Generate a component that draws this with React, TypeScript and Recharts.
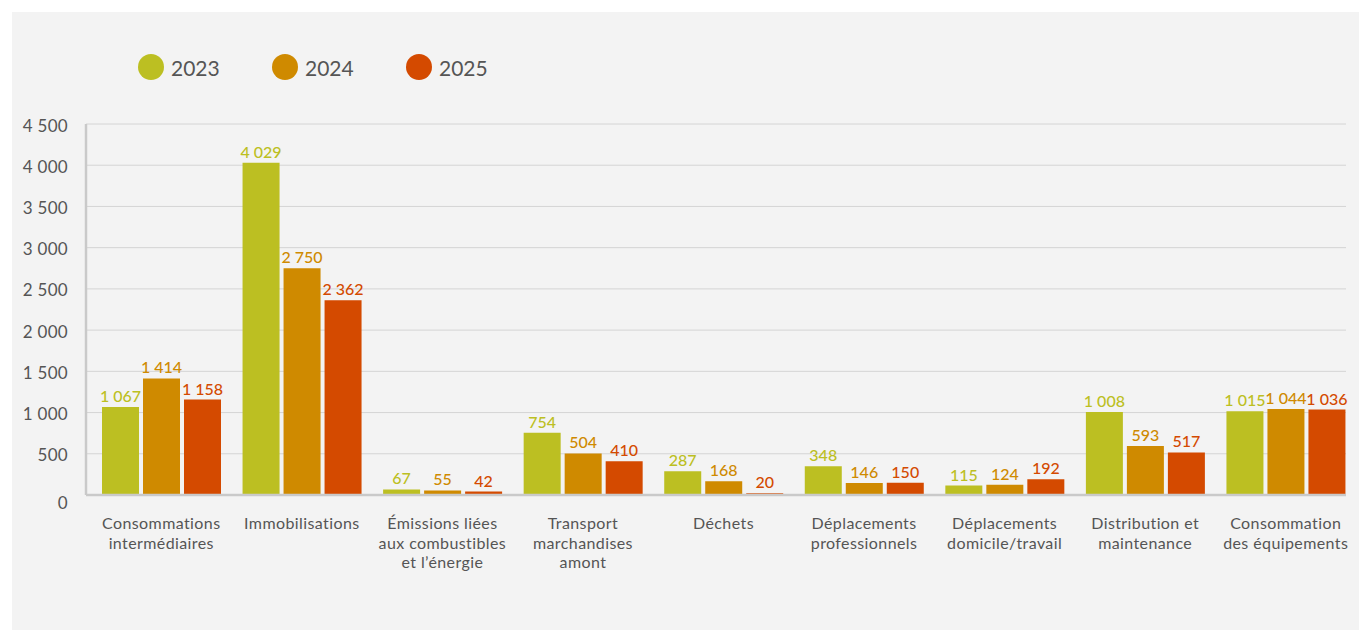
import { BarChart, Bar, XAxis, YAxis, CartesianGrid, LabelList } from 'recharts';

const categories = [
  'Consommations\nintermédiaires',
  'Immobilisations',
  'Émissions liées\naux combustibles\net l’énergie',
  'Transport\nmarchandises\namont',
  'Déchets',
  'Déplacements\nprofessionnels',
  'Déplacements\ndomicile/travail',
  'Distribution et\nmaintenance',
  'Consommation\ndes équipements',
];

const values2023 = [1067, 4029, 67, 754, 287, 348, 115, 1008, 1015];
const values2024 = [1414, 2750, 55, 504, 168, 146, 124, 593, 1044];
const values2025 = [1158, 2362, 42, 410, 20, 150, 192, 517, 1036];

const yTicks = [0, 500, 1000, 1500, 2000, 2500, 3000, 3500, 4000, 4500];

const SERIES = [
  { key: 'y2023', name: '2023', colour: '#bcbf22' },
  { key: 'y2024', name: '2024', colour: '#cf8a00' },
  { key: 'y2025', name: '2025', colour: '#d44a00' },
];

const FONT = 'Lato, "Open Sans", sans-serif';
const TEXT = '#555555';

// 4500 -> "4 500"
function formatNumber(v: number) {
  return String(Math.round(v)).replace(/\B(?=(\d{3})+(?!\d))/g, ' ');
}

function YTick(props: any) {
  const { x, y, payload } = props;
  const shift = payload.value === 0 ? 8 : 2;
  return (
    <text x={x} y={y + shift} dy={5.5} textAnchor='end' fill={TEXT} fontSize={17} fontFamily={FONT} letterSpacing={0.3}>
      {formatNumber(payload.value)}
    </text>
  );
}

function XTick(props: any) {
  const { x, y, payload } = props;
  const lines = String(payload.value).split('\n');
  return (
    <text x={x} y={y + 32} textAnchor='middle' fill={TEXT} fontSize={16} fontFamily={FONT} letterSpacing={0.4}>
      {lines.map((line, i) => (
        <tspan key={i} x={x} dy={i === 0 ? 0 : 19.5}>
          {line}
        </tspan>
      ))}
    </text>
  );
}

export default function App() {
  const data = categories.map((name, i) => ({
    name,
    y2023: values2023[i],
    y2024: values2024[i],
    y2025: values2025[i],
  }));

  return (
    <div style={{ position: 'absolute', left: 0, top: 0, width: 1359, height: 630, background: '#fff' }}>
      <div
        style={{
          position: 'absolute',
          left: 12,
          top: 12,
          width: 1347,
          height: 618,
          background: '#f3f3f3',
          fontFamily: FONT,
        }}
      >
        {/* legend */}
        <div style={{ position: 'absolute', left: 126, top: 42, display: 'flex', alignItems: 'center' }}>
          {SERIES.map((s) => (
            <div key={s.key} style={{ display: 'flex', alignItems: 'center', width: 134 }}>
              <span
                style={{ width: 26, height: 26, borderRadius: 13, background: s.colour, display: 'inline-block' }}
              />
              <span style={{ marginLeft: 7, fontSize: 21, color: TEXT }}>{s.name}</span>
            </div>
          ))}
        </div>

        <BarChart
          width={1347}
          height={618}
          data={data}
          margin={{ top: 112, right: 13, left: 14, bottom: 55 }}
          barSize={37}
          barGap={4}
        >
          <CartesianGrid stroke='#d4d4d4' vertical={false} />
          <XAxis
            dataKey='name'
            interval={0}
            height={80}
            padding={{ left: 5, right: -10 }}
            axisLine={{ stroke: '#c9c9c9', strokeWidth: 2.5 }}
            tickLine={false}
            tickSize={0}
            tick={<XTick />}
          />
          <YAxis
            width={60}
            domain={[0, 4500]}
            ticks={yTicks}
            interval={0}
            axisLine={{ stroke: '#c9c9c9', strokeWidth: 2.5 }}
            tickLine={false}
            tickSize={0}
            tickMargin={18}
            tick={<YTick />}
          />
          {SERIES.map((s) => (
            <Bar key={s.key} dataKey={s.key} name={s.name} fill={s.colour} isAnimationActive={false}>
              <LabelList
                dataKey={s.key}
                position='top'
                offset={5}
                formatter={(v: any) => formatNumber(Number(v))}
                fill={s.colour}
                fontSize={16}
                fontFamily={FONT}
                fontWeight={500}
              />
            </Bar>
          ))}
        </BarChart>
      </div>
    </div>
  );
}
